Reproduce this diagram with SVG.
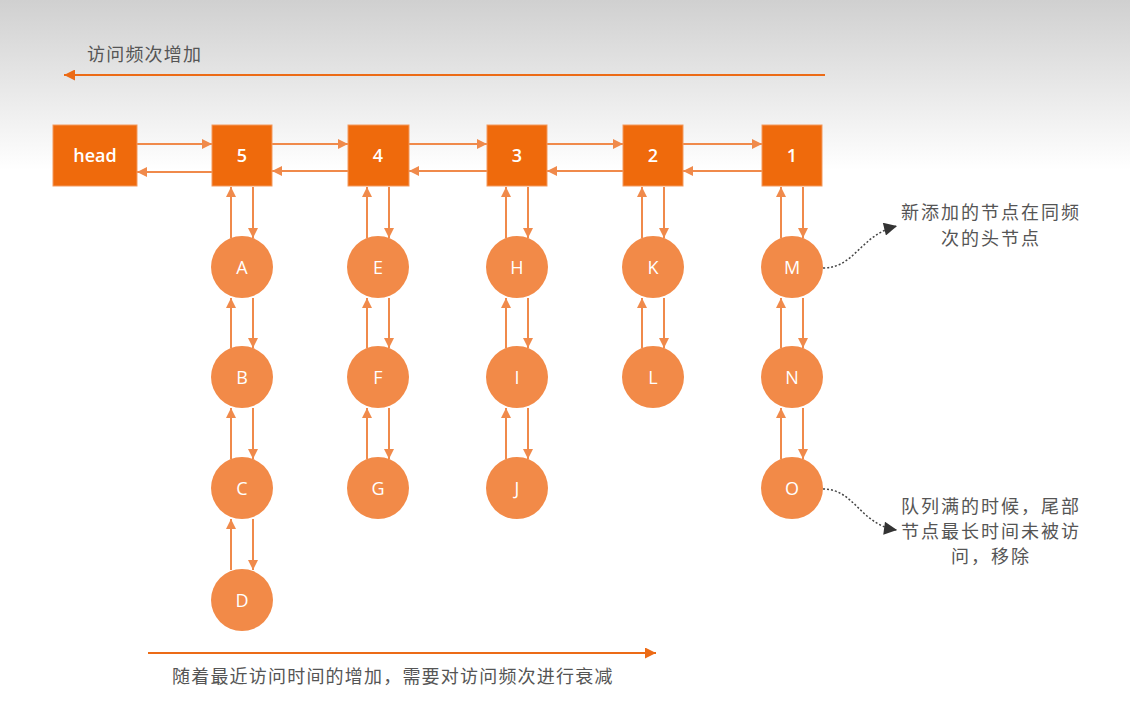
<svg xmlns="http://www.w3.org/2000/svg" width="1130" height="715" viewBox="0 0 1130 715">
<defs>
<linearGradient id="bg" x1="0" y1="0" x2="0" y2="1">
<stop offset="0" stop-color="#d0d0d0"/>
<stop offset="1" stop-color="#ffffff"/>
</linearGradient>
<marker id="ah" viewBox="0 0 10 10" refX="10" refY="5" markerWidth="11" markerHeight="10" markerUnits="userSpaceOnUse" orient="auto">
<path d="M0,0 L10,5 L0,10 Z" fill="#f08a4b"/>
</marker>
<marker id="ahb" viewBox="0 0 10 10" refX="10" refY="5" markerWidth="13" markerHeight="11" markerUnits="userSpaceOnUse" orient="auto">
<path d="M0,0 L10,5 L0,10 Z" fill="#ec6b16"/>
</marker>
<marker id="ahk" viewBox="0 0 10 10" refX="10" refY="5" markerWidth="18" markerHeight="13" markerUnits="userSpaceOnUse" orient="auto">
<path d="M0,0 L10,5 L0,10 Z" fill="#333"/>
</marker>
</defs>
<style>
.box{fill:#ef6a0c;stroke:#f39a5e;stroke-width:1}
.circ{fill:#f28a48}
.bt{font-family:"Open Sans","Liberation Sans",sans-serif;font-size:18px;font-weight:600;fill:#fff;text-anchor:middle;dominant-baseline:central}
.ct{font-family:"Open Sans","Liberation Sans",sans-serif;font-size:18px;fill:#fff;text-anchor:middle;dominant-baseline:central}
.lbl{font-family:"Noto Sans CJK SC","Liberation Sans",sans-serif;font-size:18px;fill:#555;letter-spacing:1.2px}
.ann{font-family:"Noto Sans CJK SC","Liberation Sans",sans-serif;font-size:18px;fill:#555;letter-spacing:2px;text-anchor:middle}
.c{stroke:#f08a4b;stroke-width:2;fill:none;marker-end:url(#ah)}
.big{stroke:#ec6b16;stroke-width:2;fill:none;marker-end:url(#ahb)}
.dot{stroke:#444;stroke-width:1.5;stroke-dasharray:2 2;fill:none;marker-end:url(#ahk)}
</style>
<rect x="0" y="0" width="1130" height="715" fill="#fff"/>
<rect x="0" y="0" width="1130" height="170" fill="url(#bg)"/>

<g id="labels">
<text class="lbl" x="87" y="61">访问频次增加</text>
<text class="lbl" x="172" y="683">随着最近访问时间的增加，需要对访问频次进行衰减</text>
<text class="ann" x="991" y="219">新添加的节点在同频</text>
<text class="ann" x="991" y="245">次的头节点</text>
<text class="ann" x="991" y="513">队列满的时候，尾部</text>
<text class="ann" x="991" y="538">节点最长时间未被访</text>
<text class="ann" x="991" y="563">问，移除</text>
</g>

<g id="connectors">
<line class="big" x1="825" y1="75" x2="64" y2="75"/>
<line class="big" x1="148" y1="653" x2="656" y2="653"/>
<line class="c" x1="137" y1="144" x2="212" y2="144"/>
<line class="c" x1="212" y1="172" x2="137" y2="172"/>
<line class="c" x1="272" y1="144" x2="348" y2="144"/>
<line class="c" x1="348" y1="171" x2="272" y2="171"/>
<line class="c" x1="409" y1="144" x2="487" y2="144"/>
<line class="c" x1="487" y1="171" x2="409" y2="171"/>
<line class="c" x1="547" y1="144" x2="623" y2="144"/>
<line class="c" x1="623" y1="171" x2="547" y2="171"/>
<line class="c" x1="683" y1="144" x2="762" y2="144"/>
<line class="c" x1="762" y1="171" x2="683" y2="171"/>
<line class="c" x1="231" y1="238" x2="231" y2="187"/>
<line class="c" x1="253" y1="187" x2="253" y2="238"/>
<line class="c" x1="231" y1="348" x2="231" y2="298"/>
<line class="c" x1="253" y1="298" x2="253" y2="348"/>
<line class="c" x1="231" y1="459" x2="231" y2="408"/>
<line class="c" x1="253" y1="408" x2="253" y2="459"/>
<line class="c" x1="231" y1="570" x2="231" y2="519"/>
<line class="c" x1="253" y1="519" x2="253" y2="570"/>
<line class="c" x1="367" y1="238" x2="367" y2="187"/>
<line class="c" x1="389" y1="187" x2="389" y2="238"/>
<line class="c" x1="367" y1="348" x2="367" y2="298"/>
<line class="c" x1="389" y1="298" x2="389" y2="348"/>
<line class="c" x1="367" y1="459" x2="367" y2="408"/>
<line class="c" x1="389" y1="408" x2="389" y2="459"/>
<line class="c" x1="506" y1="238" x2="506" y2="187"/>
<line class="c" x1="528" y1="187" x2="528" y2="238"/>
<line class="c" x1="506" y1="348" x2="506" y2="298"/>
<line class="c" x1="528" y1="298" x2="528" y2="348"/>
<line class="c" x1="506" y1="459" x2="506" y2="408"/>
<line class="c" x1="528" y1="408" x2="528" y2="459"/>
<line class="c" x1="642" y1="238" x2="642" y2="187"/>
<line class="c" x1="664" y1="187" x2="664" y2="238"/>
<line class="c" x1="642" y1="348" x2="642" y2="298"/>
<line class="c" x1="664" y1="298" x2="664" y2="348"/>
<line class="c" x1="781" y1="238" x2="781" y2="187"/>
<line class="c" x1="803" y1="187" x2="803" y2="238"/>
<line class="c" x1="781" y1="348" x2="781" y2="298"/>
<line class="c" x1="803" y1="298" x2="803" y2="348"/>
<line class="c" x1="781" y1="459" x2="781" y2="408"/>
<line class="c" x1="803" y1="408" x2="803" y2="459"/>
<path class="dot" d="M823,268 C855,268 860,235 897,226"/>
<path class="dot" d="M823,489 C855,489 860,525 897,530"/>
</g>

<g id="head"><rect class="box" x="53" y="125" width="84" height="61"/><text class="bt" x="95" y="155">head</text></g>
<g id="n5"><rect class="box" x="212" y="125" width="60" height="61"/><text class="bt" x="242" y="155">5</text></g>
<g id="n4"><rect class="box" x="348" y="125" width="61" height="61"/><text class="bt" x="378" y="155">4</text></g>
<g id="n3"><rect class="box" x="487" y="125" width="60" height="61"/><text class="bt" x="517" y="155">3</text></g>
<g id="n2"><rect class="box" x="623" y="125" width="60" height="61"/><text class="bt" x="653" y="155">2</text></g>
<g id="n1"><rect class="box" x="762" y="125" width="60" height="61"/><text class="bt" x="792" y="155">1</text></g>

<g id="A"><circle class="circ" cx="242" cy="267" r="31"/><text class="ct" x="242" y="267">A</text></g>
<g id="B"><circle class="circ" cx="242" cy="377" r="31"/><text class="ct" x="242" y="377">B</text></g>
<g id="C"><circle class="circ" cx="242" cy="488" r="31"/><text class="ct" x="242" y="488">C</text></g>
<g id="D"><circle class="circ" cx="242" cy="600" r="31"/><text class="ct" x="242" y="600">D</text></g>
<g id="E"><circle class="circ" cx="378" cy="267" r="31"/><text class="ct" x="378" y="267">E</text></g>
<g id="F"><circle class="circ" cx="378" cy="377" r="31"/><text class="ct" x="378" y="377">F</text></g>
<g id="G"><circle class="circ" cx="378" cy="488" r="31"/><text class="ct" x="378" y="488">G</text></g>
<g id="H"><circle class="circ" cx="517" cy="267" r="31"/><text class="ct" x="517" y="267">H</text></g>
<g id="I"><circle class="circ" cx="517" cy="377" r="31"/><text class="ct" x="517" y="377">I</text></g>
<g id="J"><circle class="circ" cx="517" cy="488" r="31"/><text class="ct" x="517" y="488">J</text></g>
<g id="K"><circle class="circ" cx="653" cy="267" r="31"/><text class="ct" x="653" y="267">K</text></g>
<g id="L"><circle class="circ" cx="653" cy="377" r="31"/><text class="ct" x="653" y="377">L</text></g>
<g id="M"><circle class="circ" cx="792" cy="267" r="31"/><text class="ct" x="792" y="267">M</text></g>
<g id="N"><circle class="circ" cx="792" cy="377" r="31"/><text class="ct" x="792" y="377">N</text></g>
<g id="O"><circle class="circ" cx="792" cy="488" r="31"/><text class="ct" x="792" y="488">O</text></g>
</svg>
